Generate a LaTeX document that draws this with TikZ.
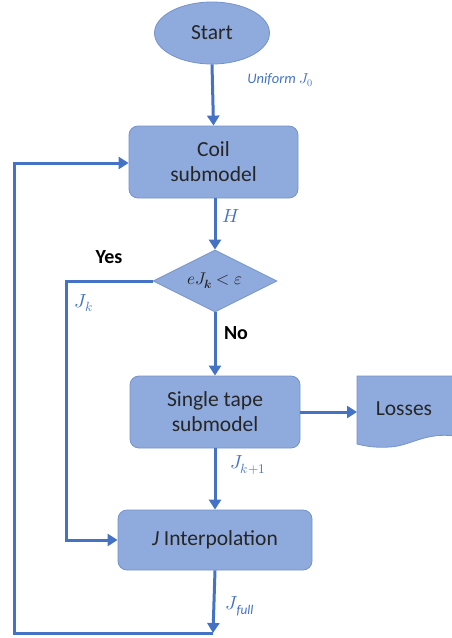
\documentclass[tikz,border=0pt]{standalone}
\usepackage{fontspec}
\usepackage{unicode-math}
\setmainfont{Carlito}
\setmathfont{Latin Modern Math}
\usetikzlibrary{shapes.geometric,arrows.meta}
\definecolor{boxfill}{HTML}{8FAADC}
\definecolor{boxline}{HTML}{7593CB}
\definecolor{flow}{HTML}{4472C4}
\begin{document}
\begin{tikzpicture}[x=1pt,y=-1pt,
  proc/.style={draw=boxline,fill=boxfill,rounded corners=9pt,line width=0.8pt,align=center,font=\fontsize{21.5}{25}\selectfont,inner sep=0pt,text=black!85},
  flowline/.style={draw=flow,line width=3pt},
  arr/.style={flowline,-{Triangle[length=10pt,width=12pt]}},
  lab/.style={text=flow,font=\fontsize{19}{21}\selectfont},
  yn/.style={font=\bfseries\fontsize{20}{22}\selectfont}]
\useasboundingbox (0,0) rectangle (452,638);
\node[ellipse,draw=boxline,fill=boxfill,line width=0.8pt,minimum width=115pt,minimum height=62pt,inner sep=0pt,font=\fontsize{21.5}{25}\selectfont,text=black!85] (start) at (212,33) {Start};
\node[proc,minimum width=169pt,minimum height=72pt] (coil) at (213.5,162) {Coil\\submodel};
\node[diamond,draw=boxline,fill=boxfill,line width=0.8pt,aspect=2,minimum width=124pt,minimum height=62pt,inner sep=0pt] (dec) at (215,281) {};
\node[text=black!85] (dectext) at (dec.center) {\fontsize{17}{19}\selectfont$eJ_{\symbfit{k}}<\varepsilon$};
\node[proc,minimum width=170pt,minimum height=72pt] (tape) at (215,412) {Single tape\\submodel};
\node[proc,minimum width=194pt,minimum height=60pt] (interp) at (215,540) {\textit{J} Interpolation};
\path[draw=boxline,fill=boxfill,line width=0.8pt] (357,376) -- (455,376) -- (455,436)
  .. controls (425,432) and (410,446) .. (390,447) .. controls (375,448) and (365,446) .. (357,444) -- cycle;
\node[font=\fontsize{21.5}{25}\selectfont,text=black!85] (loss) at (404,409) {Losses};
\coordinate (lossw) at (357,411);
\coordinate (c1) at (66,281);
\coordinate (c2) at (66,540);
\coordinate (b1) at (213,633);
\coordinate (b0) at (14,633);
\coordinate (t0) at (14,163);
\draw[arr] (start.south) -- (coil.north);
\draw[arr] (coil.south -| dec.north) -- (dec.north);
\draw[arr] (dec.south) -- (tape.north);
\draw[arr] (tape.east) -- (lossw |- tape.east);
\draw[arr] (tape.south) -- (interp.north);
\draw[arr] (dec.west) -- (c1) -- (c2) -- (interp.west);
\draw[arr] (interp.south) -- (b1);
\draw[arr] (b1) -- (b0) -- (t0) -- (coil.west |- t0);
\node[lab,font=\fontsize{14.5}{17}\selectfont] (l1) at (280,80) {$\mathit{Uniform}\ J_0$};
\node[lab] (l2) at (231,216) {$H$};
\node[lab] (l3) at (84,303) {$J_k$};
\node[lab] (l4) at (248,465) {$J_{k+1}$};
\node[lab] (l5) at (240,606) {$J_{\mathit{full}}$};
\node[yn] (yes) at (109,257) {Yes};
\node[yn] (no) at (236,333) {No};
\end{tikzpicture}
\end{document}
